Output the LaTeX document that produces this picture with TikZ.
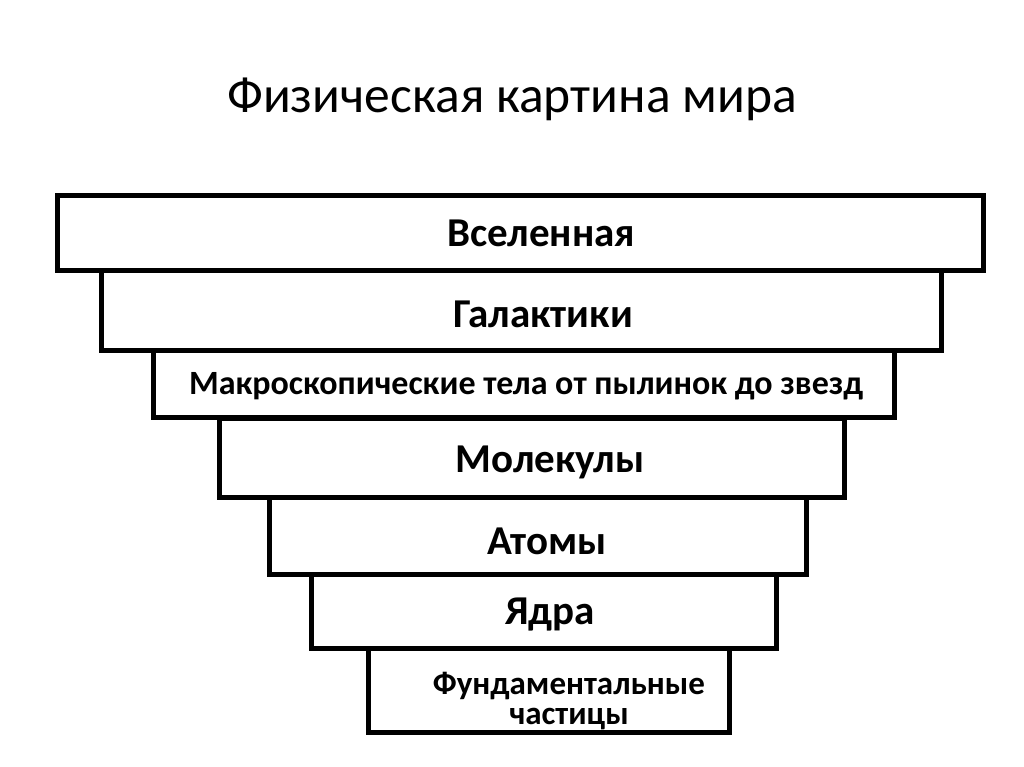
\documentclass[tikz,border=0pt]{standalone}
\usepackage{fontspec}
\setmainfont{Carlito}
\begin{document}
\begin{tikzpicture}[x=1pt,y=-1pt,
  level/.style={draw=black, line width=5pt, fill=white, inner sep=0pt, outer sep=0pt},
  lbl/.style={font=\bfseries\fontsize{41}{44}\selectfont, inner sep=0pt, anchor=base},
  smalllbl/.style={font=\bfseries\fontsize{34}{29}\selectfont, inner sep=0pt, anchor=base, align=center},
  ttl/.style={font=\fontsize{51.5}{56}\selectfont, inner sep=0pt, anchor=base}]
\useasboundingbox (0,0) rectangle (1024,767);
\node[ttl] (title) at (512,113) {Физическая картина мира};
\node[level, minimum width=925.5pt, minimum height=75pt] (b1) at (520.25,233) {};
\node[level, minimum width=840pt, minimum height=79.5pt] (b2) at (521,310.25) {};
\node[level, minimum width=741pt, minimum height=67pt] (b3) at (523.5,383.5) {};
\node[level, minimum width=625pt, minimum height=79pt] (b4) at (531.5,457.5) {};
\node[level, minimum width=537pt, minimum height=77.5pt] (b5) at (537.5,535.75) {};
\node[level, minimum width=465.5pt, minimum height=73.5pt] (b6) at (543.75,611.25) {};
\node[level, minimum width=361.5pt, minimum height=84pt] (b7) at (548.75,690) {};
\node[lbl] (t1) at (541.5,246) {Вселенная};
\node[lbl] (t2) at (543,327) {Галактики};
\node[smalllbl] (t3) at (526,394) {Макроскопические тела от пылинок до звезд};
\node[lbl] (t4) at (550,472) {Молекулы};
\node[lbl] (t5) at (547,554) {Атомы};
\node[lbl] (t6) at (550,624) {Ядра};
\node[smalllbl, font=\bfseries\fontsize{33}{30}\selectfont, anchor=center] (t7) at (569,701) {Фундаментальные\\частицы};
\end{tikzpicture}
\end{document}
